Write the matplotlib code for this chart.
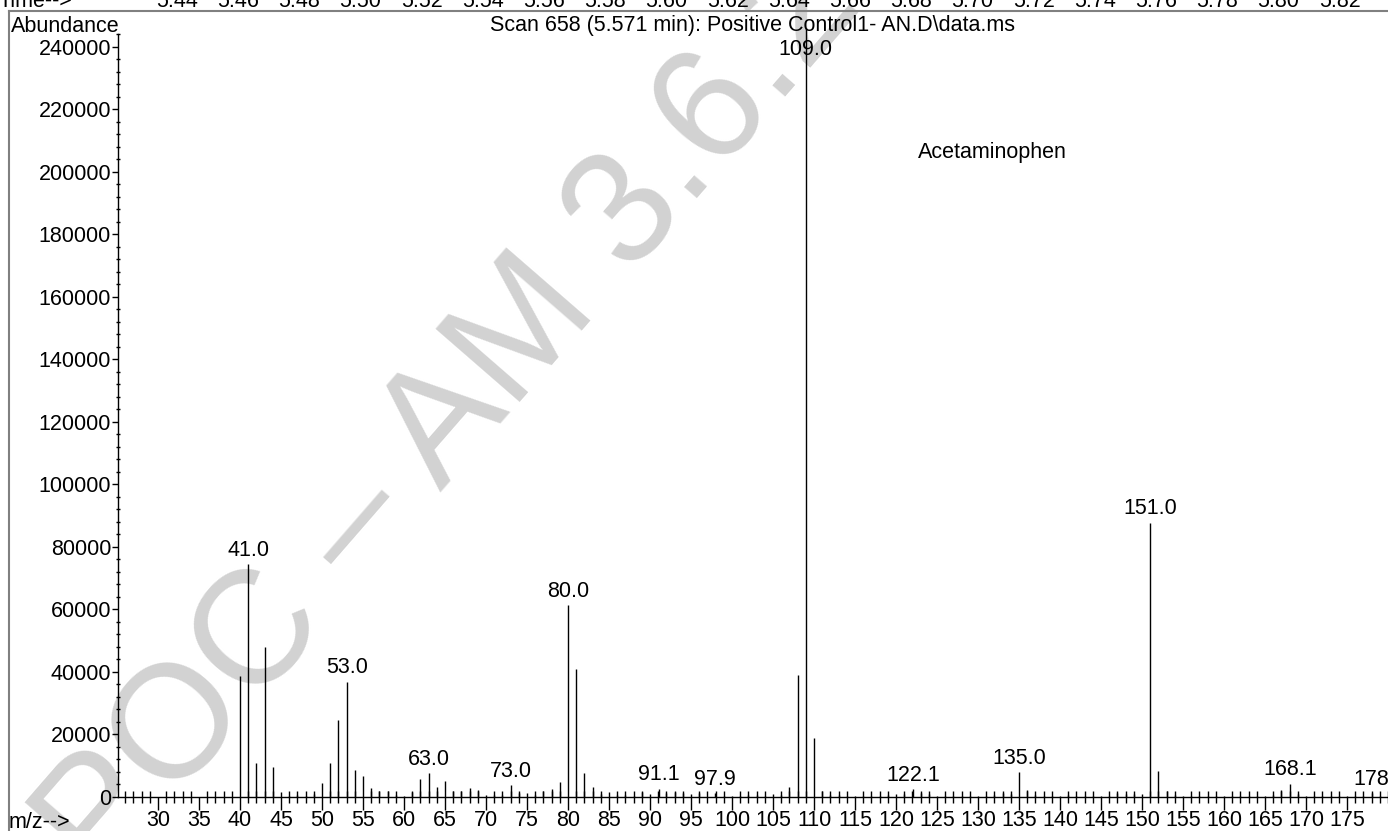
import matplotlib
matplotlib.use('Agg')
import matplotlib.pyplot as plt
from matplotlib.lines import Line2D
from matplotlib.ticker import MultipleLocator
import numpy as np

# --- spectrum data (m/z, abundance) ---
MZ = [40, 41, 42, 43, 44, 45, 46, 47, 48, 49, 50, 51, 52, 53, 54, 55, 56, 57, 58, 59,
      60, 61, 62, 63, 64, 65, 66, 67, 68, 69, 70, 71, 72, 73, 74, 75, 76, 77, 78, 79,
      80, 81, 82, 83, 84, 85, 86, 87, 88, 89, 90, 91.1, 92, 93, 94, 95, 96, 97.9, 99,
      100, 101, 102, 103, 104, 105, 106, 107, 108, 109, 110, 111, 112, 113, 114, 115,
      116, 117, 118, 119, 120, 121, 122.1, 123, 124, 125, 126, 127, 128, 129, 130, 131,
      132, 133, 134, 135, 136, 137, 138, 139, 140, 141, 142, 143, 144, 145, 146, 147,
      148, 149, 150, 151, 152, 153, 154, 155, 156, 157, 158, 159, 160, 161, 162, 163,
      164, 165, 166, 167, 168.1, 169, 170, 171, 172, 173, 174, 175, 176, 177, 178, 179]
ABUNDANCE = [38800, 74500, 11000, 47900, 9600, 1700, 300, 700, 300, 1000, 4600, 10800,
             24500, 36900, 8600, 6700, 2800, 1900, 1800, 500, 300, 1500, 5800, 7600,
             3200, 5100, 1900, 2000, 2800, 2200, 600, 600, 500, 3700, 1400, 1400, 600,
             1900, 2600, 4900, 61400, 41000, 7600, 3200, 1000, 1600, 500, 500, 400, 1500,
             1000, 2600, 1200, 1600, 1200, 1000, 1200, 1200, 400, 300, 300, 500, 600,
             400, 1000, 500, 3200, 39000, 246000, 18800, 1900, 700, 500, 300, 300, 300,
             300, 300, 500, 1000, 1000, 2400, 1200, 1000, 400, 400, 300, 400, 300, 400,
             400, 500, 1200, 1000, 7900, 2100, 500, 300, 300, 300, 700, 300, 300, 300,
             300, 400, 1400, 1000, 1000, 1000, 87700, 8300, 2000, 700, 300, 300, 300,
             300, 300, 300, 300, 300, 300, 300, 300, 500, 2300, 4200, 1000, 300, 300,
             300, 300, 300, 300, 300, 300, 1200, 300]

LABELED = ['41.0', '53.0', '63.0', '73.0', '80.0', '91.1', '97.9', '109.0',
           '122.1', '135.0', '151.0', '168.1', '178']

TIME_TICKS = ['5.44', '5.46', '5.48', '5.50', '5.52', '5.54', '5.56', '5.58', '5.60',
              '5.62', '5.64', '5.66', '5.68', '5.70', '5.72', '5.74', '5.76', '5.78',
              '5.80', '5.82']

FONT = 'Liberation Sans'
FS = 15.5
W, H = 1388, 831
plt.rcParams['font.family'] = [FONT, 'DejaVu Sans']

fig = plt.figure(figsize=(W / 100, H / 100), dpi=100)
fig.patch.set_facecolor('white')

# watermark behind everything
fig.text(100 / W, 1 - 885 / H, 'POC \u2013 AM 3.6.2.1', fontsize=116, color='#d2d2d2',
         rotation=49, rotation_mode='anchor', ha='left', va='baseline', zorder=-5)

# page frame lines and time strip
fig.add_artist(Line2D([9 / W, 1.0], [1 - 11 / H, 1 - 11 / H], transform=fig.transFigure,
                      color='#808080', lw=1.5))
fig.add_artist(Line2D([9 / W, 9 / W], [1 - 11 / H, 0], transform=fig.transFigure,
                      color='#808080', lw=1.5))
fig.text(-2 / W, 1 - 7 / H, 'Time-->', fontsize=FS, ha='left', va='baseline')
for i, t in enumerate(TIME_TICKS):
    fig.text((177 + i * 61.2) / W, 1 - 7 / H, t, fontsize=FS, ha='center', va='baseline')

fig.text(11 / W, 1 - 26 / H, 'Abundance', fontsize=FS, ha='left', va='center')
fig.text(753 / W, 1 - 26 / H, 'Scan 658 (5.571 min): Positive Control1- AN.D\\data.ms',
         fontsize=FS, ha='center', va='center')
fig.text(9 / W, 1 - 823 / H, 'm/z-->', fontsize=FS, ha='left', va='center')

# main spectrum axes
ax = fig.add_axes([118 / W, 34 / H, 1 - 118 / W, (797 - 34) / H])
ax.set_facecolor('none')
ymax = 244000
ax.set_xlim(25.12, 180.0)
ax.set_ylim(0, ymax)

ax.vlines(MZ, 0, ABUNDANCE, colors='black', lw=1.0, clip_on=False)

for lab in LABELED:
    x = float(lab)
    idx = int(np.argmin([abs(m - x) for m in MZ]))
    y = min(ABUNDANCE[idx], ymax - 9500)
    ax.annotate(lab, (MZ[idx], y), xytext=(0, 2.5), textcoords='offset points',
                ha='center', va='bottom', fontsize=FS, annotation_clip=False)

ax.text(122.7, 206000, 'Acetaminophen', fontsize=FS, ha='left', va='center')

for s in ['top', 'right']:
    ax.spines[s].set_visible(False)
for s in ['left', 'bottom']:
    ax.spines[s].set_linewidth(1.0)
    ax.spines[s].set_color('black')

ax.xaxis.set_major_locator(MultipleLocator(5))
ax.xaxis.set_minor_locator(MultipleLocator(1))
ax.yaxis.set_major_locator(MultipleLocator(20000))
ax.yaxis.set_minor_locator(MultipleLocator(4000))
ax.tick_params(axis='x', which='major', direction='out', length=9, width=1, labelsize=FS, pad=0.5)
ax.tick_params(axis='x', which='minor', direction='inout', length=8, width=1)
ax.tick_params(axis='y', which='major', direction='out', length=4, width=1, labelsize=FS, pad=1)
ax.tick_params(axis='y', which='minor', direction='inout', length=3, width=1)
ax.set_xticks(np.arange(30, 180, 5))
ax.set_yticks(np.arange(0, 240001, 20000))

fig.savefig('out.png', dpi=100)
